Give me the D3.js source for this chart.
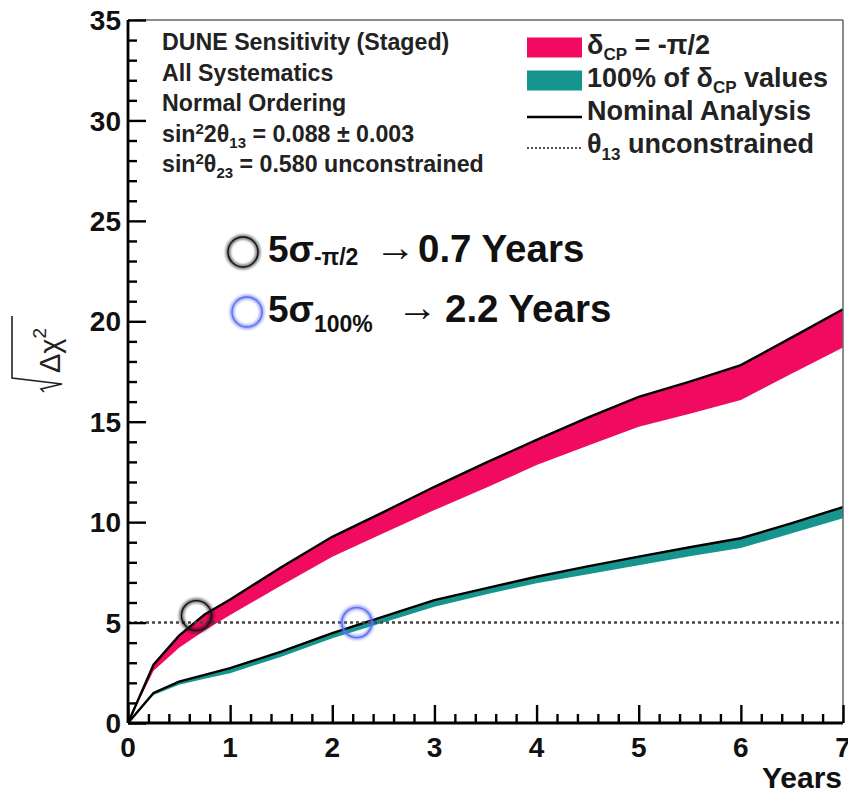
<!DOCTYPE html>
<html>
<head>
<meta charset="utf-8">
<script src="https://cdn.jsdelivr.net/npm/d3@7"></script>
<style>
  body { margin: 0; background: #fff; }
  text { font-family: "Liberation Sans", Arial, Helvetica, sans-serif; }
</style>
</head>
<body>
<script>
// exposure in years and sqrt(delta chi2)
var years      = [0, 0.25, 0.5, 0.75, 1, 1.5, 2, 2.5, 3, 3.5, 4, 4.5, 5, 5.5, 6, 6.5, 7];
var pinkUpper  = [0, 2.9, 4.35, 5.4, 6.15, 7.75, 9.27, 10.5, 11.76, 12.95, 14.1, 15.2, 16.24, 17.0, 17.82, 19.2, 20.6];
var pinkLower  = [0, 2.6, 3.75, 4.6, 5.38, 6.85, 8.28, 9.45, 10.6, 11.7, 12.84, 13.8, 14.75, 15.4, 16.08, 17.4, 18.7];
var tealUpper  = [0, 1.5, 2.06, 2.4, 2.73, 3.55, 4.47, 5.3, 6.12, 6.7, 7.28, 7.8, 8.28, 8.75, 9.2, 9.95, 10.75];
var tealLower  = [0, 1.4, 1.9, 2.2, 2.48, 3.3, 4.22, 5.0, 5.79, 6.4, 6.96, 7.4, 7.86, 8.3, 8.71, 9.45, 10.2];

var xTicks = [0, 1, 2, 3, 4, 5, 6, 7];
var yTicks = [0, 5, 10, 15, 20, 25, 30, 35];
var fiveSigma = 5;
var crossings = [ { year: 0.67, value: 5.35, color: "#111" },
                  { year: 2.24, value: 5.0,  color: "#5a6cf5" } ];

var pink = "#f00a60", teal = "#16958e";

var W = 848, H = 791;
var margin = { top: 20, right: 5, bottom: 68, left: 128 },
    width = W - margin.left - margin.right,
    height = H - margin.top - margin.bottom;

var svg = d3.select("body").append("svg")
    .attr("width", W)
    .attr("height", H);

var defs = svg.append("defs");
defs.append("filter").attr("id", "glow")
    .attr("x", "-50%").attr("y", "-50%").attr("width", "200%").attr("height", "200%")
    .append("feGaussianBlur").attr("stdDeviation", 1.8);

var g = svg.append("g")
    .attr("transform", "translate(" + margin.left + "," + margin.top + ")");

var x = d3.scaleLinear().domain([0, 7]).range([0, width]);
var y = d3.scaleLinear().domain([0, 35]).range([height, 0]);

// bands
function band(lo, hi) {
    return d3.area()
        .x(function (d, i) { return x(years[i]); })
        .y0(function (d, i) { return y(lo[i]); })
        .y1(function (d, i) { return y(hi[i]); })(years);
}
function edge(vals) {
    return d3.line()
        .x(function (d, i) { return x(years[i]); })
        .y(function (d, i) { return y(vals[i]); })(years);
}

g.append("path").attr("d", band(tealLower, tealUpper)).attr("fill", teal);
g.append("path").attr("d", band(pinkLower, pinkUpper)).attr("fill", pink);
g.append("path").attr("d", edge(tealUpper)).attr("fill", "none").attr("stroke", "#000").attr("stroke-width", 2.4);
g.append("path").attr("d", edge(pinkUpper)).attr("fill", "none").attr("stroke", "#000").attr("stroke-width", 2.4);

// 5 sigma dotted line
g.append("line")
    .attr("x1", x(0)).attr("x2", x(7))
    .attr("y1", y(fiveSigma)).attr("y2", y(fiveSigma))
    .attr("stroke", "#444").attr("stroke-width", 2.4)
    .attr("stroke-dasharray", "3,3");

// crossing circles
crossings.forEach(function (c) {
    g.append("circle").attr("cx", x(c.year)).attr("cy", y(c.value)).attr("r", 15)
        .attr("fill", "none").attr("stroke", c.color).attr("stroke-width", 4)
        .attr("opacity", 0.7).attr("filter", "url(#glow)");
    g.append("circle").attr("cx", x(c.year)).attr("cy", y(c.value)).attr("r", 15)
        .attr("fill", "none").attr("stroke", c.color).attr("stroke-width", 1.3);
});

// frame
g.append("line").attr("x1", 0).attr("x2", width).attr("y1", 0).attr("y2", 0)
    .attr("stroke", "#666").attr("stroke-width", 1.5);
g.append("line").attr("x1", width).attr("x2", width).attr("y1", 0).attr("y2", height)
    .attr("stroke", "#666").attr("stroke-width", 1.5);

// axes (ROOT style, ticks inside)
var xAxis = g.append("g").attr("transform", "translate(0," + height + ")");
xAxis.call(d3.axisTop(x).tickValues(d3.range(0, 7.01, 0.2)).tickSize(9).tickFormat(""));
xAxis.call(function (s) {
    s.selectAll(".tick line").attr("stroke-width", 2.4)
        .filter(function (d) { return Math.abs(d - Math.round(d)) < 1e-6; }).attr("y2", -18);
    s.select(".domain").attr("stroke-width", 2.8).attr("d", "M0,0H" + width);
});
xAxis.selectAll(".xl").data(xTicks).enter().append("text")
    .attr("x", function (d) { return x(d); })
    .attr("y", 34)
    .attr("text-anchor", "middle")
    .attr("font-size", 28).attr("font-weight", "bold").attr("fill", "#111")
    .text(function (d) { return d; });

var yAxis = g.append("g");
yAxis.call(d3.axisRight(y).tickValues(d3.range(0, 35.01, 1)).tickSize(9).tickFormat(""));
yAxis.call(function (s) {
    s.selectAll(".tick line").attr("stroke-width", 2.4)
        .filter(function (d) { return d % 5 === 0; }).attr("x2", 18);
    s.select(".domain").attr("stroke-width", 2.8).attr("d", "M0,0V" + height);
});
yAxis.selectAll(".yl").data(yTicks).enter().append("text")
    .attr("x", -7)
    .attr("y", function (d) { return y(d); })
    .attr("dy", "0.36em")
    .attr("text-anchor", "end")
    .attr("font-size", 28).attr("font-weight", "bold").attr("fill", "#111")
    .text(function (d) { return d; });

g.append("text")
    .attr("x", width - 1).attr("y", height + 65)
    .attr("text-anchor", "end")
    .attr("font-size", 30).attr("font-weight", "bold").attr("fill", "#111")
    .text("Years");

// y title: sqrt(Delta chi^2)
var yt = svg.append("g").attr("transform", "translate(62,392) rotate(-90)");
yt.append("path")
    .attr("d", d3.line()([[0, -18], [3, -21], [8, 0], [14, -50], [76, -50]]))
    .attr("fill", "none").attr("stroke", "#222").attr("stroke-width", 1.6);
var ytt = yt.append("text").attr("x", 19).attr("y", -2)
    .attr("font-size", 29).attr("fill", "#222");
ytt.append("tspan").text("Δχ");
ytt.append("tspan").attr("dy", -14).attr("font-size", 19).text("2");

// rich text helper: parts = [text, baselineOffset, fontSize]
function rich(t, parts, size) {
    var shift = 0;
    parts.forEach(function (p) {
        var s = p[1] || 0;
        t.append("tspan").attr("dy", s - shift).attr("font-size", p[2] || size).text(p[0]);
        shift = s;
    });
}

// info block
var info = [
    [["DUNE Sensitivity (Staged)"]],
    [["All Systematics"]],
    [["Normal Ordering"]],
    [["sin"], ["2", -8, 15], ["2θ"], ["13", 6, 15], [" = 0.088 ± 0.003"]],
    [["sin"], ["2", -8, 15], ["θ"], ["23", 6, 15], [" = 0.580 unconstrained"]]
];
info.forEach(function (line, i) {
    var t = svg.append("text")
        .attr("x", 162).attr("y", 50 + i * 30.5)
        .attr("font-weight", "bold").attr("fill", "#222");
    rich(t, line, 23.2);
});

// legend
var leg = [
    { type: "box", color: pink, cy: 47.5, base: 54, parts: [["δ"], ["CP", 6, 17], [" = -π/2"]] },
    { type: "box", color: teal, cy: 80.5, base: 87, parts: [["100% of δ"], ["CP", 6, 17], [" values"]] },
    { type: "line", cy: 117, base: 120, parts: [["Nominal Analysis"]] },
    { type: "dot", cy: 148, base: 153, parts: [["θ"], ["13", 7, 17], [" unconstrained"]] }
];
leg.forEach(function (d) {
    if (d.type === "box") {
        svg.append("rect").attr("x", 527).attr("y", d.cy - 10).attr("width", 55).attr("height", 20)
            .attr("fill", d.color);
    } else {
        svg.append("line").attr("x1", 527).attr("x2", 582).attr("y1", d.cy).attr("y2", d.cy)
            .attr("stroke", d.type === "line" ? "#000" : "#555")
            .attr("stroke-width", d.type === "line" ? 2.6 : 2)
            .attr("stroke-dasharray", d.type === "dot" ? "2,2" : null);
    }
    var t = svg.append("text").attr("x", 587).attr("y", d.base)
        .attr("font-weight", "bold").attr("fill", "#222");
    rich(t, d.parts, 27);
});

// annotations
var notes = [
    { cx: 243, cy: 252, color: "#111", base: 262, sub: "-π/2", subShift: 3, rest: "0.7 Years", arrowX: 375, restX: 418 },
    { cx: 247, cy: 312, color: "#5a6cf5", base: 322, sub: "100%", subShift: 10, rest: "2.2 Years", arrowX: 397, restX: 445 }
];
notes.forEach(function (n) {
    svg.append("circle").attr("cx", n.cx).attr("cy", n.cy).attr("r", 15)
        .attr("fill", "none").attr("stroke", n.color).attr("stroke-width", 4)
        .attr("opacity", 0.7).attr("filter", "url(#glow)");
    svg.append("circle").attr("cx", n.cx).attr("cy", n.cy).attr("r", 15)
        .attr("fill", "none").attr("stroke", n.color).attr("stroke-width", 1.3);
    var t = svg.append("text").attr("x", 268).attr("y", n.base)
        .attr("font-weight", "bold").attr("fill", "#111");
    rich(t, [["5σ"], [n.sub, n.subShift, 23]], 37);
    svg.append("text").attr("x", n.arrowX).attr("y", n.base - 1)
        .attr("font-family", "DejaVu Sans")
        .attr("font-size", 41).attr("fill", "#111").text("→");
    svg.append("text").attr("x", n.restX).attr("y", n.base)
        .attr("font-size", 38.5).attr("font-weight", "bold").attr("fill", "#111").text(n.rest);
});
</script>
</body>
</html>
